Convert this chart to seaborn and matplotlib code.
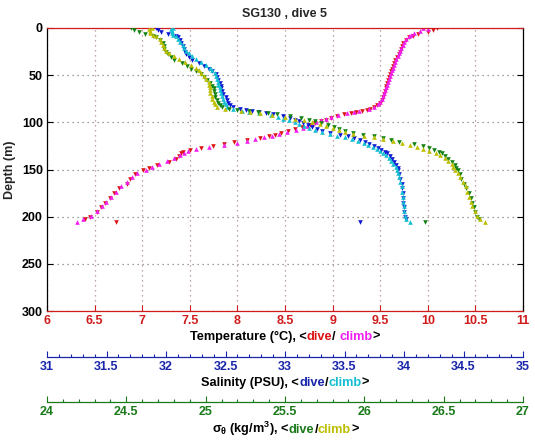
import matplotlib
matplotlib.use("Agg")
import matplotlib.pyplot as plt
from matplotlib.offsetbox import TextArea, HPacker, AnnotationBbox
from matplotlib.ticker import MultipleLocator
import seaborn as sns

# dive leg: depth (m), temperature (C), salinity (PSU), sigma-theta (kg/m3)
depth_dive = [0, 2, 4, 6, 8, 10, 13, 16, 19, 22,
              25, 28, 31, 34, 37, 40, 43, 46, 49, 52,
              55, 58, 61, 64, 67, 70, 73, 76, 79, 82,
              84, 86, 87, 88, 89, 90, 91, 93, 95, 97,
              99, 101, 103, 105, 107, 109, 111, 113, 115, 117,
              119, 121, 123, 125, 127, 129, 131, 133, 136, 139,
              142, 145, 148, 151, 155, 160, 165, 170, 175, 180,
              185, 190, 195, 200, 203, 206]
temp_dive = [10.10, 10.05, 10.00, 9.90, 9.84, 9.80, 9.77, 9.74, 9.73, 9.72,
             9.71, 9.70, 9.68, 9.66, 9.65, 9.63, 9.62, 9.61, 9.60, 9.59,
             9.58, 9.57, 9.56, 9.56, 9.55, 9.54, 9.53, 9.52, 9.50, 9.47,
             9.44, 9.39, 9.36, 9.31, 9.25, 9.19, 9.12, 9.05, 8.98, 8.93,
             8.88, 8.82, 8.76, 8.68, 8.60, 8.53, 8.46, 8.40, 8.33, 8.24,
             8.10, 7.96, 7.86, 7.74, 7.62, 7.50, 7.43, 7.41, 7.39, 7.35,
             7.28, 7.16, 7.07, 7.01, 6.92, 6.87, 6.84, 6.76, 6.70, 6.66,
             6.61, 6.57, 6.52, 6.45, 6.40, 6.73]
salt_dive = [31.92, 31.93, 31.96, 32.02, 32.08, 32.10, 32.12, 32.13, 32.14, 32.15,
             32.16, 32.17, 32.19, 32.22, 32.28, 32.32, 32.36, 32.39, 32.42, 32.43,
             32.44, 32.45, 32.46, 32.46, 32.47, 32.48, 32.50, 32.51, 32.52, 32.54,
             32.56, 32.62, 32.67, 32.72, 32.78, 32.84, 32.90, 32.98, 33.04, 33.08,
             33.12, 33.15, 33.19, 33.23, 33.27, 33.31, 33.38, 33.46, 33.53, 33.58,
             33.63, 33.67, 33.71, 33.75, 33.78, 33.81, 33.84, 33.86, 33.88, 33.90,
             33.92, 33.93, 33.95, 33.95, 33.96, 33.97, 33.98, 33.98, 33.99, 33.99,
             33.99, 34.00, 34.00, 34.01, 34.02, 33.63]
sigma_dive = [24.53, 24.55, 24.58, 24.62, 24.67, 24.69, 24.71, 24.73, 24.74, 24.74,
              24.75, 24.76, 24.78, 24.80, 24.85, 24.88, 24.91, 24.94, 24.97, 24.99,
              25.01, 25.03, 25.04, 25.05, 25.05, 25.06, 25.06, 25.07, 25.08, 25.09,
              25.10, 25.15, 25.20, 25.27, 25.33, 25.39, 25.45, 25.53, 25.60, 25.65,
              25.69, 25.73, 25.77, 25.81, 25.84, 25.88, 25.93, 25.99, 26.06, 26.12,
              26.17, 26.22, 26.31, 26.37, 26.41, 26.44, 26.47, 26.49, 26.51, 26.53,
              26.55, 26.57, 26.58, 26.59, 26.60, 26.61, 26.63, 26.64, 26.66, 26.67,
              26.68, 26.69, 26.70, 26.71, 26.72, 26.38]

# climb leg
depth_climb = [0, 1, 3, 5, 7, 9, 12, 15, 18, 21,
               24, 27, 30, 33, 36, 39, 42, 45, 48, 51,
               54, 57, 60, 63, 66, 69, 72, 75, 78, 81,
               84, 86, 88, 89, 90, 92, 94, 96, 98, 100,
               102, 104, 106, 108, 110, 112, 114, 116, 118, 120,
               122, 124, 126, 128, 130, 132, 135, 138, 141, 144,
               147, 150, 154, 158, 163, 168, 174, 179, 184, 189,
               194, 199, 203, 206]
temp_climb = [9.95, 10.00, 9.92, 9.86, 9.82, 9.80, 9.77, 9.75, 9.74, 9.72,
              9.71, 9.70, 9.69, 9.67, 9.66, 9.64, 9.63, 9.62, 9.61, 9.60,
              9.59, 9.58, 9.57, 9.56, 9.55, 9.54, 9.53, 9.52, 9.50, 9.48,
              9.44, 9.38, 9.28, 9.22, 9.15, 9.06, 8.98, 8.93, 8.88, 8.83,
              8.78, 8.73, 8.69, 8.62, 8.52, 8.44, 8.36, 8.28, 8.18, 8.10,
              8.00, 7.86, 7.70, 7.56, 7.48, 7.44, 7.40, 7.33, 7.26, 7.18,
              7.10, 7.04, 6.95, 6.89, 6.84, 6.78, 6.72, 6.67, 6.62, 6.58,
              6.53, 6.46, 6.38, 6.31]
salt_climb = [32.06, 32.04, 32.05, 32.05, 32.06, 32.08, 32.10, 32.12, 32.14, 32.15,
              32.17, 32.19, 32.22, 32.25, 32.29, 32.34, 32.37, 32.39, 32.41, 32.42,
              32.43, 32.44, 32.44, 32.45, 32.45, 32.46, 32.47, 32.48, 32.49, 32.50,
              32.51, 32.56, 32.64, 32.70, 32.78, 32.88, 32.94, 32.98, 33.03, 33.08,
              33.12, 33.16, 33.20, 33.25, 33.31, 33.38, 33.44, 33.50, 33.56, 33.61,
              33.66, 33.70, 33.74, 33.77, 33.80, 33.82, 33.85, 33.87, 33.89, 33.91,
              33.93, 33.94, 33.95, 33.96, 33.97, 33.98, 33.98, 33.99, 33.99, 34.00,
              34.00, 34.01, 34.02, 34.05]
sigma_climb = [24.66, 24.64, 24.65, 24.65, 24.67, 24.69, 24.71, 24.72, 24.73, 24.74,
               24.75, 24.77, 24.80, 24.83, 24.87, 24.91, 24.94, 24.96, 24.97, 24.99,
               25.00, 25.02, 25.02, 25.03, 25.03, 25.03, 25.04, 25.04, 25.05, 25.06,
               25.07, 25.12, 25.22, 25.28, 25.34, 25.42, 25.50, 25.56, 25.62, 25.67,
               25.72, 25.76, 25.80, 25.84, 25.88, 25.93, 26.00, 26.06, 26.12, 26.18,
               26.24, 26.29, 26.33, 26.37, 26.41, 26.45, 26.48, 26.51, 26.53, 26.55,
               26.56, 26.57, 26.59, 26.60, 26.62, 26.64, 26.65, 26.66, 26.67, 26.68,
               26.70, 26.71, 26.73, 26.76]

title = "SG130 , dive 5"

red, magenta = '#dc1414', '#f01ef0'
blue, cyan = '#0c18d2', '#14bed2'
green, olive = '#128212', '#bcbe00'
red_txt, blue_txt, green_txt = '#d01c1c', '#1a26aa', '#1a7a1a'

sns.set_style('white')
plt.rcParams['font.family'] = ['Liberation Sans', 'DejaVu Sans']
plt.rcParams['font.weight'] = 'bold'
plt.rcParams['font.size'] = 9
plt.rcParams['mathtext.default'] = 'regular'

fig = plt.figure(figsize=(5.35, 4.42), dpi=100)
ax = fig.add_axes([47 / 535, 1 - 311 / 442, 476 / 535, 283 / 442])

fmt = matplotlib.ticker.FuncFormatter(lambda v, p: f'{v:g}')

# temperature on the main axes
sns.scatterplot(x=temp_dive, y=depth_dive, ax=ax, marker='v', color=red, s=11, linewidth=0, legend=False)
sns.scatterplot(x=temp_climb, y=depth_climb, ax=ax, marker='^', color=magenta, s=11, linewidth=0, legend=False)
ax.set_xlim(6, 11)
ax.set_ylim(300, 0)
ax.xaxis.set_major_locator(MultipleLocator(0.5))
ax.yaxis.set_major_locator(MultipleLocator(50))
ax.xaxis.set_major_formatter(fmt)
ax.tick_params(axis='x', direction='in', top=True, bottom=True, length=4, width=0.8,
               colors=red_txt, labelsize=9, pad=3)
ax.tick_params(axis='y', direction='in', left=True, right=True, length=4, width=0.8,
               colors='black', labelsize=9, pad=3)
ax.grid(axis='x', linestyle=(0, (1, 3)), color='#b08888', linewidth=0.9)
ax.grid(axis='y', linestyle=(0, (1, 3)), color='#808080', linewidth=0.9)
for side in ['top', 'bottom']:
    ax.spines[side].set_color(red_txt)
for side in ['left', 'right']:
    ax.spines[side].set_color('black')
for sp in ax.spines.values():
    sp.set_linewidth(0.9)
ax.set_xlabel('')
ax.set_ylabel('')


def extra_axis(lo, hi, offset, color):
    tw = ax.twiny()
    tw.patch.set_visible(False)
    tw.set_xlim(lo, hi)
    tw.xaxis.set_ticks_position('bottom')
    tw.xaxis.set_label_position('bottom')
    tw.spines['bottom'].set_position(('outward', offset))
    for side in ['top', 'left', 'right']:
        tw.spines[side].set_visible(False)
    tw.spines['bottom'].set_color(color)
    tw.spines['bottom'].set_linewidth(0.9)
    tw.xaxis.set_major_locator(MultipleLocator(0.5))
    tw.xaxis.set_minor_locator(MultipleLocator(0.1))
    tw.xaxis.set_major_formatter(fmt)
    tw.tick_params(axis='x', which='major', direction='in', length=4, width=0.8,
                   colors=color, labelsize=9, pad=3)
    tw.tick_params(axis='x', which='minor', direction='in', length=2, width=0.8, colors=color)
    tw.grid(False)
    return tw


ax_s = extra_axis(31, 35, 33, blue_txt)
sns.scatterplot(x=salt_dive, y=depth_dive, ax=ax_s, marker='v', color=blue, s=11, linewidth=0, legend=False)
sns.scatterplot(x=salt_climb, y=depth_climb, ax=ax_s, marker='^', color=cyan, s=11, linewidth=0, legend=False)

ax_d = extra_axis(24, 27, 65.5, green_txt)
sns.scatterplot(x=sigma_dive, y=depth_dive, ax=ax_d, marker='v', color=green, s=11, linewidth=0, legend=False)
sns.scatterplot(x=sigma_climb, y=depth_climb, ax=ax_d, marker='^', color=olive, s=11, linewidth=0, legend=False)
for a in [ax_s, ax_d]:
    a.set_xlabel('')
    a.set_ylabel('')
    a.yaxis.set_visible(False)
ax.set_ylim(300, 0)


# multi-coloured axis labels
def colored_label(parts, y):
    boxes = [TextArea(t, textprops=dict(color=c, fontsize=9.2, fontweight='bold')) for t, c in parts]
    pack = HPacker(children=boxes, pad=0, sep=0, align='baseline')
    ab = AnnotationBbox(pack, (285 / 535, y), xycoords='figure fraction', frameon=False,
                        box_alignment=(0.5, 0.5), pad=0)
    fig.add_artist(ab)


colored_label([('Temperature (°C), <', 'black'), ('dive', red), ('/ ', 'black'),
               ('climb', magenta), ('>', 'black')], 1 - 337 / 442)
colored_label([('Salinity (PSU), <', 'black'), ('dive', blue_txt), ('/', 'black'),
               ('climb', cyan), ('>', 'black')], 1 - 383 / 442)
colored_label([(r'$\sigma_{\theta}$ (kg/m$^{3}$), <', 'black'), ('dive', green_txt), ('/', 'black'),
               ('climb', olive), ('>', 'black')], 1 - 429 / 442)

fig.text(285 / 535, 1 - 14 / 442, title, ha='center', va='center', fontsize=9, fontweight='bold')
fig.text(10 / 535, 1 - 170 / 442, 'Depth (m)', rotation=90, ha='center', va='center',
         fontsize=9, fontweight='bold')

fig.savefig('out.png', dpi=100)
